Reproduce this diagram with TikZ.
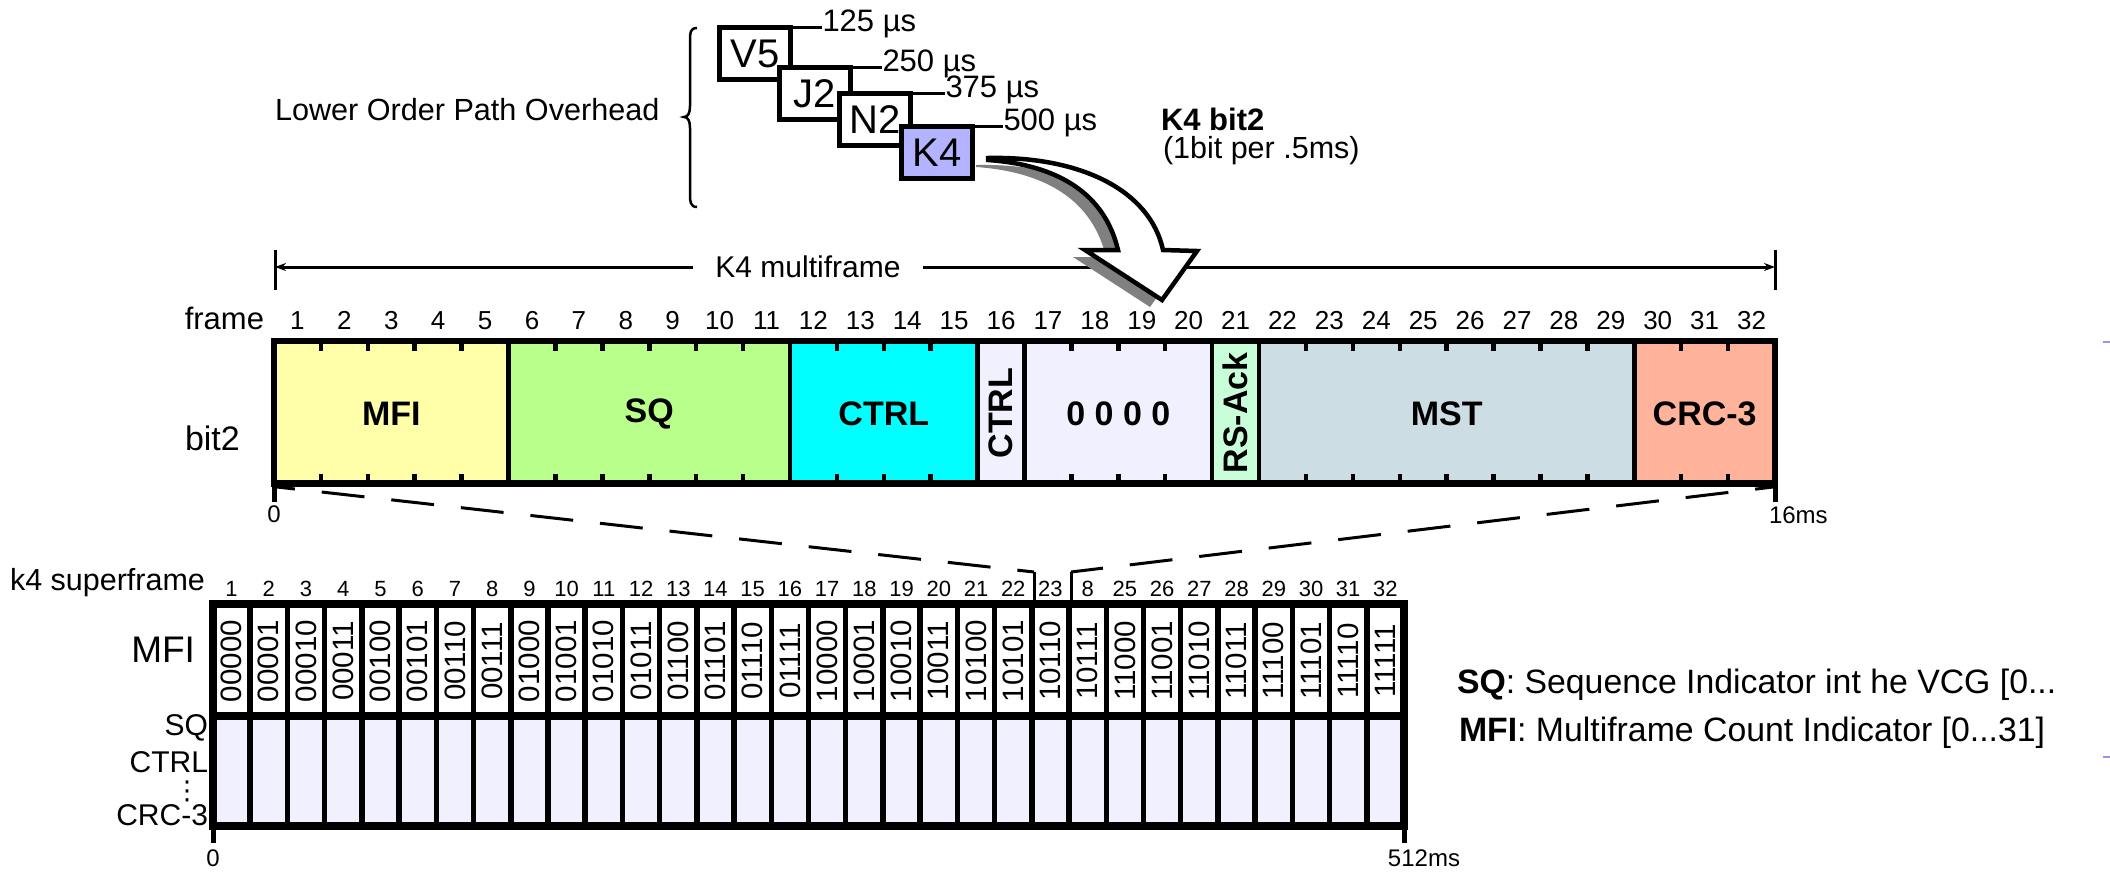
\documentclass[tikz,border=0pt]{standalone}
\usepackage{fontspec}
\setmainfont{Liberation Sans}
\newfontfamily\symfont{DejaVu Sans}
\usetikzlibrary{arrows.meta}
\definecolor{cMFI}{HTML}{FFFFAA}
\definecolor{cSQ}{HTML}{B8FF8C}
\definecolor{cCTRL}{HTML}{00FFFF}
\definecolor{cLav}{HTML}{F0F0FF}
\definecolor{cRS}{HTML}{C8FFD8}
\definecolor{cMST}{HTML}{CCDDE3}
\definecolor{cCRC}{HTML}{FFB39B}
\definecolor{cKfour}{HTML}{B3B3FF}
\definecolor{cShadow}{HTML}{808080}
\definecolor{cMark}{HTML}{A98BEF}
\newcommand\myfs[1]{\fontsize{#1}{#1}\selectfont}
\def\fw{46.906}
\def\cw{37.22}
\def\arrowpath{(988,158) .. controls (1080,156) and (1150,190) .. (1163,250) -- (1197,251) -- (1162,300) -- (1085,250) -- (1118,250) .. controls (1105,195) and (1060,165) .. (988,160) -- cycle}
\begin{document}
\begin{tikzpicture}[x=1pt,y=-1pt,
  every node/.style={inner sep=0pt,outer sep=0pt},
  ohbox/.style={draw,line width=5pt,fill=white,minimum width=71pt,minimum height=52pt,font=\myfs{40}},
  timeline/.style={line width=2.5pt},
  timelab/.style={anchor=west,font=\myfs{31}},
  seglab/.style={font=\myfs{34}\bfseries},
  topnum/.style={anchor=base,font=\myfs{26}},
  botnum/.style={anchor=base,font=\myfs{22}},
  binlab/.style={rotate=90,font=\myfs{29.5}},
  sidelab/.style={anchor=east,font=\myfs{30}},
  dashline/.style={line width=3pt,dash pattern=on 43pt off 27pt,dash phase=25pt},
  thickline/.style={line width=4.5pt},
  endtick/.style={line width=5pt}
]
\useasboundingbox (0,0) rectangle (2110,871);

% ---------- Lower order path overhead ----------
\node[anchor=west,font=\myfs{30.6}] (lopo) at (275,110) {Lower Order Path Overhead};
\draw[line width=2.5pt] (697,28) .. controls (690,28) and (690,33) .. (690,41) -- (690,106)
  .. controls (690,113) and (688,117) .. (684,117)
  .. controls (688,117) and (690,121) .. (690,128) -- (690,194)
  .. controls (690,201) and (690,207) .. (697,207);

\node[ohbox] (vfive) at (755,53.5) {V5};
\draw[timeline] (vfive.north east) -- ++(31,0) coordinate (tv);
\node[timelab] (tvl) at ([xshift=1pt,yshift=4pt]tv) {125 µs};

\node[ohbox] (jtwo) at (815,93.5) {J2};
\draw[timeline] (jtwo.north east) -- ++(31,0) coordinate (tj);
\node[timelab] (tjl) at ([xshift=1pt,yshift=4pt]tj) {250 µs};

\node[ohbox] (ntwo) at (875,119.5) {N2};
\draw[timeline] (ntwo.north east) -- ++(34,0) coordinate (tn);
\node[timelab] (tnl) at ([xshift=1pt,yshift=4pt]tn) {375 µs};

\node[ohbox,fill=cKfour] (kfour) at (937,152.5) {K4};
\draw[timeline] (kfour.north east) -- ++(30,0) coordinate (tk);
\node[timelab] (tkl) at ([xshift=1pt,yshift=4pt]tk) {500 µs};

\node[anchor=west,font=\myfs{31}\bfseries] (kbit) at (1161,119) {K4 bit2};
\node[anchor=west,font=\myfs{30.5}] (kbitsub) at (1163,151) {(1bit per .5ms)};

% ---------- K4 multiframe dimension ----------
\coordinate (mfL) at (275,267);
\coordinate (mfR) at (1775,267);
\draw[line width=3pt] (275,250) -- (275,290);
\draw[line width=3pt] (1775,250) -- (1775,290);
\draw[line width=3pt,{Stealth[length=11pt,width=8pt]}-{Stealth[length=11pt,width=8pt]}] (mfL) -- (mfR);
\node[fill=white,inner xsep=22pt,inner ysep=3pt,font=\myfs{30}] (mflab) at (808,267) {K4 multiframe};

% ---------- curved arrow ----------
\fill[cShadow,shift={(-12,7)}] \arrowpath;
\draw[line width=4.5pt,fill=white,line join=miter] \arrowpath;

% ---------- top bar ----------
\foreach \a/\b/\c in {0/5/cMFI,5/11/cSQ,11/15/cCTRL,15/20/cLav,20/21/cRS,21/29/cMST,29/32/cCRC}
  \fill[\c] ({274+\a*\fw},341) rectangle ({274+\b*\fw},483.5);
\foreach \k in {5,11,15,16,20,21,29}
  \draw[thickline] ({274+\k*\fw},341) -- ({274+\k*\fw},483.5);
\foreach \k in {1,2,3,4,6,7,8,9,10,12,13,14,17,18,19,22,23,24,25,26,27,28,30,31}{
  \draw[thickline] ({274+\k*\fw},341) -- ({274+\k*\fw},351);
  \draw[thickline] ({274+\k*\fw},474) -- ({274+\k*\fw},483.5);
}
\draw[line width=6.5pt] (274,341) rectangle (1775,483.5);
\draw[endtick] (274,483.5) -- (274,502);
\draw[endtick] (1775,483.5) -- (1775,502);

\foreach \k in {1,...,32}
  \node[topnum] (fn\k) at ({274+(\k-0.5)*\fw},329) {\k};
\node[anchor=base east,font=\myfs{31}] (framelab) at (264,329) {frame};
\node[anchor=base west,font=\myfs{34}] (bitlab) at (185,450) {bit2};

\node[seglab] (sMFI) at ({274+2.5*\fw},414) {MFI};
\node[seglab] (sSQ) at ({274+8*\fw},414) {SQ};
\node[seglab] (sCTRL) at ({274+13*\fw},414) {CTRL};
\node[seglab,rotate=90] (sCTRLb) at ({274+15.5*\fw},413) {CTRL};
\node[seglab] (sZero) at ({274+18*\fw},414) {0 0 0 0};
\node[seglab,rotate=90] (sRS) at ({274+20.5*\fw},413) {RS-Ack};
\node[seglab] (sMST) at ({274+25*\fw},414) {MST};
\node[seglab] (sCRC) at ({274+30.5*\fw},414) {CRC-3};

\node[font=\myfs{24}] (zeroA) at (274,514) {0};
\node[anchor=west,font=\myfs{24}] (sixteen) at (1769,515) {16ms};

% ---------- zoom lines ----------
\coordinate (topL) at (277,487);
\coordinate (kneeL) at (1034,572);
\coordinate (botL) at (1034,601);
\coordinate (topR) at (1773,487);
\coordinate (kneeR) at (1071,572);
\coordinate (botR) at (1071,601);
\draw[dashline] (topL) -- (kneeL);
\draw[line width=3pt] (kneeL) -- (botL);
\draw[dashline] (topR) -- (kneeR);
\draw[line width=3pt] (kneeR) -- (botR);

% ---------- bottom superframe ----------
\fill[white] (213,604) rectangle (1404,715.5);
\fill[cLav] (213,715.5) rectangle (1404,825.5);
\foreach \k in {1,...,31}
  \draw[line width=5.5pt] ({213+\k*\cw},604) -- ({213+\k*\cw},825.5);
\draw[line width=8pt] (213,715.5) -- (1404,715.5);
\draw[line width=8pt] (213,604) rectangle (1404,825.5);
\draw[endtick] (213,825.5) -- (213,843);
\draw[endtick] (1404,825.5) -- (1404,843);

\foreach \b [count=\i] in {00000,00001,00010,00011,00100,00101,00110,00111,01000,01001,01010,01011,01100,01101,01110,01111,10000,10001,10010,10011,10100,10101,10110,10111,11000,11001,11010,11011,11100,11101,11110,11111}
  \node[binlab] (mb\i) at ({213+(\i-0.5)*\cw},661) {\b};

\foreach \n [count=\i] in {1,2,3,4,5,6,7,8,9,10,11,12,13,14,15,16,17,18,19,20,21,22,23,8,25,26,27,28,29,30,31,32}
  \node[botnum] (cn\i) at ({213+(\i-0.5)*\cw},596) {\n};

\node[anchor=base east,font=\myfs{30.5}] (sflab) at (205,590) {k4 superframe};
\node[anchor=east,font=\myfs{37}] (mfilab) at (195,650) {MFI};
\node[sidelab] (sqlab) at (208,728) {SQ};
\node[sidelab] (ctrllab) at (208,762) {CTRL};
\node[font=\symfont\myfs{26}] (dotslab) at (187,791) {⋮};
\node[sidelab] (crclab) at (208,815) {CRC-3};

\node[font=\myfs{24}] (zeroB) at (213,858) {0};
\node[font=\myfs{24}] (fivetwelve) at (1424,858) {512ms};

% ---------- legend ----------
\node[anchor=west,font=\myfs{33.8}] (legSQ) at (1457,685) {\textbf{SQ}: Sequence Indicator int he VCG [0...};
\node[anchor=west,font=\myfs{33.8}] (legMFI) at (1459,733) {\textbf{MFI}: Multiframe Count Indicator [0...31]};

% ---------- stray marks ----------
\draw[cMark,line width=1.8pt] (2103,342) -- (2110,342);
\draw[cMark,line width=1.8pt] (2103,757) -- (2110,757);
\end{tikzpicture}
\end{document}
